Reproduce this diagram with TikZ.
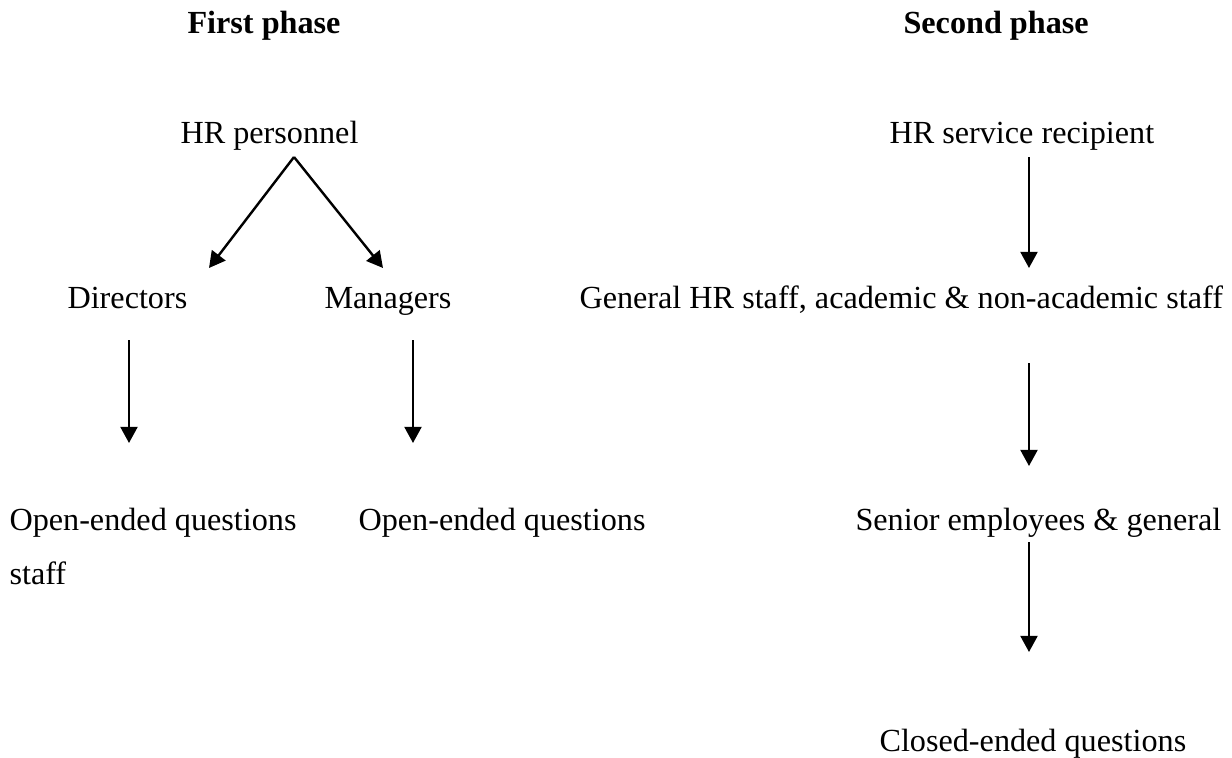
\documentclass[tikz,border=0pt]{standalone}
\usepackage{fontspec}
\setmainfont{Liberation Serif}
\usetikzlibrary{arrows.meta}

\tikzset{
  label text/.style={anchor=base west, inner sep=0pt, font=\fontsize{12pt}{14pt}\selectfont},
  phase title/.style={label text, font=\fontsize{12pt}{14pt}\selectfont\bfseries},
  flow/.style={-{Triangle[length=6pt,width=6.3pt]}, line width=0.9pt},
}

\begin{document}
\begin{tikzpicture}[x=0.3727pt, y=-0.3727pt]
  \useasboundingbox (0,0) rectangle (1232,758);

  % phase headings
  \node[phase title] (p1) at (187,33) {First phase};
  \node[phase title] (p2) at (903,33) {Second phase};

  % first phase
  \node[label text] (hrp) at (180,143) {HR personnel};
  \node[label text] (dir) at (67,308) {Directors};
  \node[label text] (man) at (324,308) {Managers};
  \node[label text] (oq1) at (9,530) {Open-ended questions};
  \node[label text] (stf) at (9,584) {staff};
  \node[label text] (oq2) at (358,530) {Open-ended questions};

  % second phase
  \node[label text] (hrs) at (889,143) {HR service recipient};
  \node[label text] (gen) at (579,308) {General HR staff, academic \& non-academic staff};
  \node[label text] (sen) at (855,530) {Senior employees \& general};
  \node[label text] (cq)  at (879,751) {Closed-ended questions};

  % connector end points
  \coordinate (hrpApex) at (294,157);
  \coordinate (dirTip)  at (209,268);
  \coordinate (manTip)  at (383,268);
  \coordinate (dirFoot) at (129,340);
  \coordinate (oq1Tip)  at (129,443);
  \coordinate (manFoot) at (413,340);
  \coordinate (oq2Tip)  at (413,443);
  \coordinate (hrsFoot) at (1029,157);
  \coordinate (genTip)  at (1029,268);
  \coordinate (genFoot) at (1029,363);
  \coordinate (senTip)  at (1029,466);
  \coordinate (senFoot) at (1029,542);
  \coordinate (cqTip)   at (1029,652);

  % connectors
  \draw[flow] (hrpApex) -- (dirTip);
  \draw[flow] (hrpApex) -- (manTip);
  \draw[flow] (dirFoot) -- (oq1Tip);
  \draw[flow] (manFoot) -- (oq2Tip);
  \draw[flow] (hrsFoot) -- (genTip);
  \draw[flow] (genFoot) -- (senTip);
  \draw[flow] (senFoot) -- (cqTip);
\end{tikzpicture}
\end{document}
